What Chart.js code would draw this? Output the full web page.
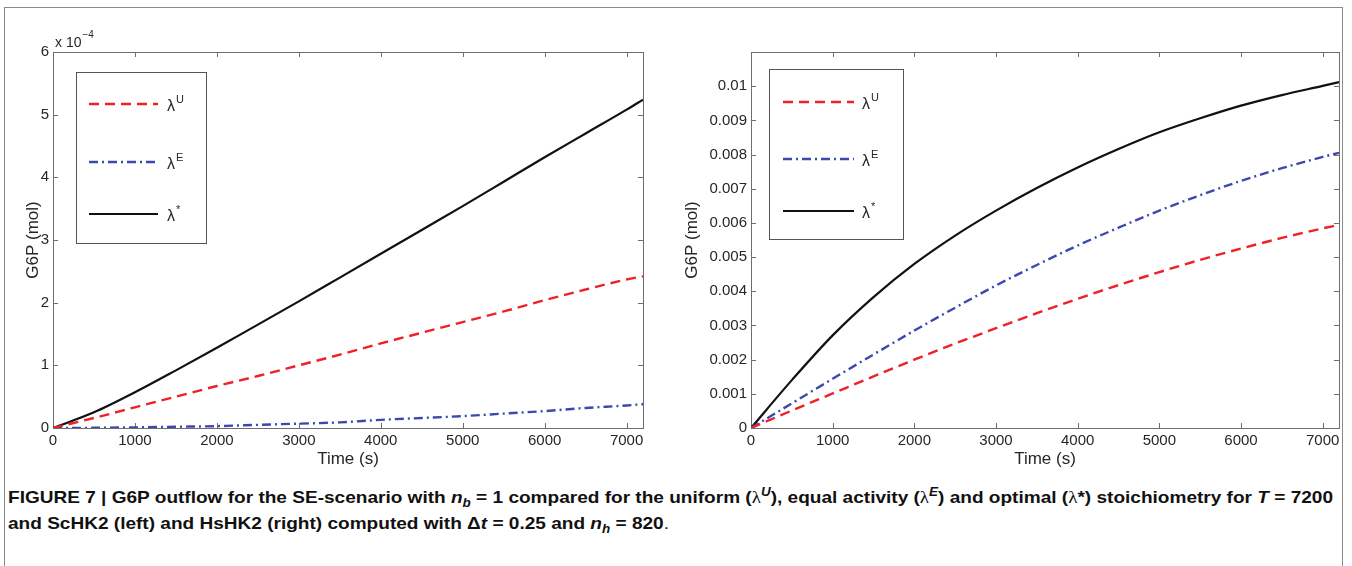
<!DOCTYPE html>
<html lang="en">
<head>
<meta charset="UTF-8">
<title>G6P outflow - SE scenario</title>
<script src="https://cdn.jsdelivr.net/npm/chart.js"></script>
<style>
  body {
    margin: 0;
    width: 1352px;
    height: 566px;
    overflow: hidden;
    position: relative;
    background: #fff;
    font-family: "Liberation Sans", Arial, sans-serif;
  }
  #frame {
    position: absolute;
    left: 4px;
    top: 7px;
    width: 1339px;
    height: 640px;
    border: 1.5px solid #8a8a8a;
    border-bottom: none;
    box-sizing: border-box;
  }
  canvas { position: absolute; top: 0; }
  #leftChart { left: 0; }
  #rightChart { left: 680px; }
  .caption {
    position: absolute;
    left: 8px;
    font-size: 17px;
    line-height: 17px;
    font-weight: bold;
    color: #111;
    white-space: nowrap;
    transform-origin: 0 0;
  }
  .caption .m { font-family: "Liberation Serif", serif; font-weight: normal; }
  .caption .sup { font-size: 12px; position: relative; top: -7px; }
  .caption .sub { font-size: 12px; position: relative; top: 4px; }
  .caption .dot { font-weight: normal; }
</style>
</head>
<body>
<div id="frame"></div>
<canvas id="leftChart" width="660" height="480"></canvas>
<canvas id="rightChart" width="672" height="480"></canvas>

<div class="caption" id="cap1" style="top:489px">FIGURE 7 | G6P outflow for the SE-scenario with <i>n</i><i class="sub">b</i> = 1 compared for the uniform (<span class="m">λ</span><i class="sup">U</i>), equal activity (<span class="m">λ</span><i class="sup">E</i>) and optimal (<span class="m">λ</span>*) stoichiometry for <i>T</i> = 7200</div>
<div class="caption" id="cap2" style="top:515px">and ScHK2 (left) and HsHK2 (right) computed with Δ<i>t</i> = 0.25 and <i>n</i><i class="sub">h</i> = 820<span class="dot">.</span></div>

<script>
  // time axis shared by both panels (s)
  const timeS = [0, 500, 1000, 1500, 2000, 2500, 3000, 3500, 4000, 4500, 5000, 5500, 6000, 6500, 7000, 7200];
  const timeTicks = [0, 1000, 2000, 3000, 4000, 5000, 6000, 7000];

  // ScHK2 (left panel), values in units of 10^-4 mol
  const scExponent = -4;
  const scTicks = [0, 1, 2, 3, 4, 5, 6];
  const scUniform = [0, 0.16, 0.33, 0.50, 0.67, 0.83, 1.00, 1.17, 1.35, 1.52, 1.69, 1.86, 2.04, 2.21, 2.37, 2.42];
  const scEqual   = [0, 0.003, 0.01, 0.02, 0.03, 0.05, 0.07, 0.09, 0.13, 0.16, 0.19, 0.23, 0.27, 0.32, 0.36, 0.38];
  const scOptimal = [0, 0.25, 0.57, 0.92, 1.28, 1.65, 2.02, 2.40, 2.78, 3.16, 3.54, 3.93, 4.32, 4.70, 5.08, 5.24];

  // HsHK2 (right panel), mol
  const hsTicks = [0, 0.001, 0.002, 0.003, 0.004, 0.005, 0.006, 0.007, 0.008, 0.009, 0.01];
  const hsUniform = [0, 0.00051, 0.00101, 0.00151, 0.00200, 0.00247, 0.00292, 0.00336, 0.00378, 0.00418, 0.00456, 0.00492, 0.00525, 0.00556, 0.00584, 0.00594];
  const hsEqual   = [0, 0.00072, 0.00144, 0.00215, 0.00285, 0.00352, 0.00417, 0.00477, 0.00534, 0.00586, 0.00636, 0.00681, 0.00723, 0.00760, 0.00793, 0.00805];
  const hsOptimal = [0, 0.00140, 0.00271, 0.00383, 0.00480, 0.00563, 0.00636, 0.00702, 0.00762, 0.00816, 0.00865, 0.00906, 0.00943, 0.00974, 0.01001, 0.01012];

  const seriesLabels = ['λ^U', 'λ^E', 'λ^*'];
  const xTitle = 'Time (s)';
  const yTitle = 'G6P (mol)';

  const TEXT = '#262626';
  const AXIS = '#6e6e6e';

  function toPoints(values) {
    return timeS.map((t, i) => ({ x: t, y: values[i] }));
  }

  function makeDatasets(u, e, o) {
    return [
      { label: seriesLabels[0], data: toPoints(u), borderColor: '#ee2127', borderWidth: 2.4, borderDash: [10, 6] },
      { label: seriesLabels[1], data: toPoints(e), borderColor: '#3b48ad', borderWidth: 2.4, borderDash: [9, 4, 2, 4] },
      { label: seriesLabels[2], data: toPoints(o), borderColor: '#111111', borderWidth: 2.2 }
    ].map(d => Object.assign(d, { pointRadius: 0, fill: false, cubicInterpolationMode: 'monotone' }));
  }

  // MATLAB style box with inward ticks on all four sides
  const innerTicks = {
    id: 'innerTicks',
    beforeDatasetsDraw(chart) {
      const { ctx, chartArea: a } = chart;
      const xs = chart.scales.x, ys = chart.scales.y;
      ctx.save();
      ctx.strokeStyle = AXIS;
      ctx.lineWidth = 1;
      ctx.beginPath();
      xs.ticks.forEach(t => {
        const px = Math.round(xs.getPixelForValue(t.value)) + 0.5;
        ctx.moveTo(px, a.bottom); ctx.lineTo(px, a.bottom - 5);
        ctx.moveTo(px, a.top); ctx.lineTo(px, a.top + 5);
      });
      ys.ticks.forEach(t => {
        const py = Math.round(ys.getPixelForValue(t.value)) + 0.5;
        ctx.moveTo(a.left, py); ctx.lineTo(a.left + 5, py);
        ctx.moveTo(a.right, py); ctx.lineTo(a.right - 5, py);
      });
      ctx.stroke();
      ctx.strokeRect(Math.round(a.left) + 0.5, Math.round(a.top) + 0.5,
                     Math.round(a.right - a.left), Math.round(a.bottom - a.top));
      ctx.restore();
    },
    afterDraw(chart, args, opts) {
      if (opts.exponent === undefined) return;
      const { ctx, chartArea: a } = chart;
      ctx.save();
      ctx.fillStyle = TEXT;
      ctx.textBaseline = 'alphabetic';
      ctx.font = '14px "Liberation Sans"';
      ctx.fillText('x 10', a.left + 2, a.top - 5);
      const w = ctx.measureText('x 10').width;
      ctx.font = '10px "Liberation Sans"';
      ctx.fillText('\u2212' + Math.abs(opts.exponent), a.left + 3 + w, a.top - 14);
      ctx.restore();
    }
  };

  // boxed legend inside the plot, labels like λ^U drawn with superscript
  const boxLegend = {
    id: 'boxLegend',
    afterDatasetsDraw(chart, args, opts) {
      const { ctx, chartArea: a } = chart;
      const x0 = Math.round(a.left + opts.x), y0 = Math.round(a.top + opts.y);
      ctx.save();
      ctx.fillStyle = '#fff';
      ctx.fillRect(x0, y0, opts.w, opts.h);
      ctx.strokeStyle = '#555';
      ctx.lineWidth = 1;
      ctx.strokeRect(x0 + 0.5, y0 + 0.5, opts.w, opts.h);
      chart.data.datasets.forEach((ds, i) => {
        const y = y0 + opts.rows[i];
        ctx.beginPath();
        ctx.setLineDash(ds.borderDash || []);
        ctx.strokeStyle = ds.borderColor;
        ctx.lineWidth = ds.borderWidth;
        ctx.moveTo(x0 + opts.lineFrom, y);
        ctx.lineTo(x0 + opts.lineTo, y);
        ctx.stroke();
        ctx.setLineDash([]);
        const [base, sup] = ds.label.split('^');
        ctx.fillStyle = TEXT;
        ctx.textBaseline = 'alphabetic';
        ctx.font = '16px "Liberation Sans"';
        ctx.fillText(base, x0 + opts.textAt, y + 7);
        const bw = ctx.measureText(base).width;
        ctx.font = '11px "Liberation Sans"';
        ctx.fillText(sup, x0 + opts.textAt + bw + 1, y - 1);
      });
      ctx.restore();
    }
  };

  function makeOptions(cfg) {
    return {
      responsive: false,
      animation: false,
      layout: { padding: { left: 0, top: 52, right: cfg.rightPad, bottom: 0 } },
      plugins: {
        legend: { display: false },
        tooltip: { enabled: false },
        boxLegend: cfg.legend,
        innerTicks: { exponent: cfg.exponent }
      },
      scales: {
        x: {
          type: 'linear',
          min: 0,
          max: 7200,
          grid: { display: false, drawTicks: false },
          border: { display: false },
          afterBuildTicks: s => { s.ticks = timeTicks.map(v => ({ value: v })); },
          ticks: {
            autoSkip: false,
            maxRotation: 0,
            padding: 4,
            color: TEXT,
            font: { family: '"Liberation Sans"', size: 15 },
            callback: v => String(v)
          },
          title: {
            display: true,
            text: xTitle,
            color: TEXT,
            font: { family: '"Liberation Sans"', size: 17 },
            padding: { top: 0, bottom: 10 }
          },
          afterFit: s => { s.height = 52; }
        },
        y: {
          type: 'linear',
          min: cfg.yMin,
          max: cfg.yMax,
          grid: { display: false, drawTicks: false },
          border: { display: false },
          afterBuildTicks: s => { s.ticks = cfg.yTicks.map(v => ({ value: v })); },
          ticks: {
            autoSkip: false,
            padding: 4,
            color: TEXT,
            font: { family: '"Liberation Sans"', size: 15 },
            callback: cfg.yFormat
          },
          title: {
            display: true,
            text: yTitle,
            color: TEXT,
            font: { family: '"Liberation Sans"', size: 17 },
            padding: { top: cfg.yTitlePad, bottom: 0 }
          },
          afterFit: s => { s.width = cfg.yWidth; }
        }
      }
    };
  }

  new Chart(document.getElementById('leftChart'), {
    type: 'line',
    data: { datasets: makeDatasets(scUniform, scEqual, scOptimal) },
    options: makeOptions({
      rightPad: 17, yWidth: 53, yTitlePad: 23,
      yMin: 0, yMax: 6, yTicks: scTicks,
      yFormat: v => String(v),
      exponent: scExponent,
      legend: { x: 23, y: 20, w: 130, h: 171, rows: [32, 90, 142], lineFrom: 13, lineTo: 82, textAt: 91 }
    }),
    plugins: [innerTicks, boxLegend]
  });

  new Chart(document.getElementById('rightChart'), {
    type: 'line',
    data: { datasets: makeDatasets(hsUniform, hsEqual, hsOptimal) },
    options: makeOptions({
      rightPad: 13, yWidth: 71, yTitlePad: 2,
      yMin: 0, yMax: 0.011, yTicks: hsTicks,
      yFormat: v => String(v),
      legend: { x: 18, y: 17, w: 134, h: 170, rows: [33, 90, 142], lineFrom: 14, lineTo: 85, textAt: 93 }
    }),
    plugins: [innerTicks, boxLegend]
  });

  // squeeze the caption so it spans the figure width like the condensed original
  const cap1 = document.getElementById('cap1');
  const cap2 = document.getElementById('cap2');
  const squeeze = 1325 / cap1.getBoundingClientRect().width;
  [cap1, cap2].forEach(c => { c.style.transform = 'scaleX(' + squeeze + ')'; });
</script>
</body>
</html>
